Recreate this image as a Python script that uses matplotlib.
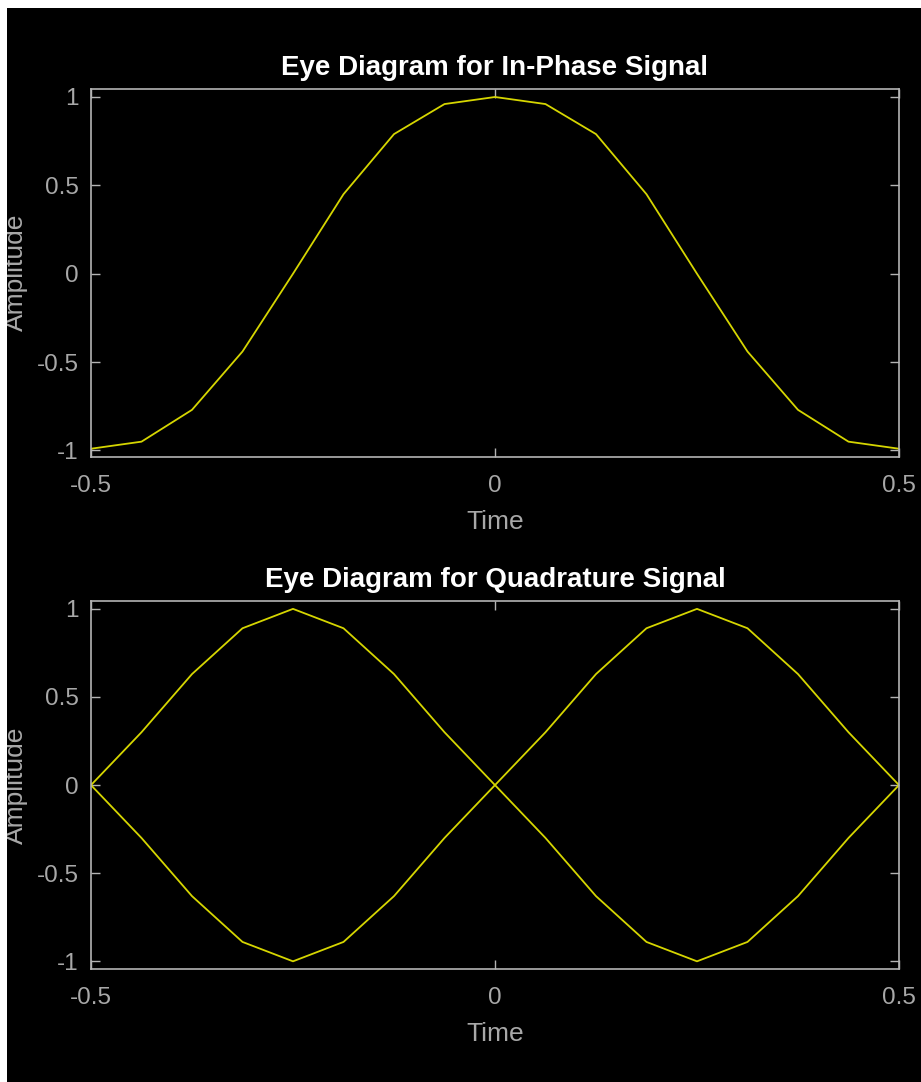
import numpy as np
import matplotlib.pyplot as plt
from matplotlib.patches import Rectangle

# Sample times (one symbol period, 16 samples per symbol)
time = [-0.5, -0.4375, -0.375, -0.3125, -0.25, -0.1875, -0.125, -0.0625, 0.0,
        0.0625, 0.125, 0.1875, 0.25, 0.3125, 0.375, 0.4375, 0.5]

# In-phase trace
inphase = [-0.99, -0.95, -0.77, -0.44, 0.0, 0.45, 0.79, 0.96, 1.0,
           0.96, 0.79, 0.45, 0.0, -0.44, -0.77, -0.95, -0.99]

# Quadrature traces
quad_a = [0.0, 0.30, 0.63, 0.89, 1.0, 0.89, 0.63, 0.30, 0.0,
          -0.30, -0.63, -0.89, -1.0, -0.89, -0.63, -0.30, 0.0]
quad_b = [0.0, -0.30, -0.63, -0.89, -1.0, -0.89, -0.63, -0.30, 0.0,
          0.30, 0.63, 0.89, 1.0, 0.89, 0.63, 0.30, 0.0]

xticks = [-0.5, 0, 0.5]
yticks = [-1, -0.5, 0, 0.5, 1]
xticklabels = ['-0.5', '0', '0.5']
yticklabels = ['-1', '-0.5', '0', '0.5', '1']

plt.rcParams['font.family'] = ['Liberation Sans', 'DejaVu Sans']

axis_col = '#b4b4b4'
text_col = '#a8a8a8'
line_col = '#d6d600'

fig = plt.figure(figsize=(9.21, 10.82), dpi=100, facecolor='black')


def style_axes(ax, title, ylim):
    ax.set_facecolor('black')
    ax.set_xlim(-0.5, 0.5)
    ax.set_ylim(*ylim)
    ax.set_xticks(xticks)
    ax.set_xticklabels(xticklabels)
    ax.set_yticks(yticks)
    ax.set_yticklabels(yticklabels)
    for s in ax.spines.values():
        s.set_color(axis_col)
        s.set_linewidth(1.2)
    ax.tick_params(direction='in', length=6.5, width=1.0, color=axis_col,
                   labelcolor=text_col, labelsize=17.5,
                   top=True, right=True)
    ax.tick_params(axis='x', pad=13)
    ax.tick_params(axis='y', pad=9)
    ax.set_xlabel('Time', color=text_col, fontsize=19, labelpad=9)
    ax.set_ylabel('Amplitude', color=text_col, fontsize=19)
    ax.yaxis.set_label_coords(-0.078, 0.5)
    ax.set_title(title, color='white', fontsize=20, fontweight='bold', pad=10)


ax1 = fig.add_axes([0.0988, 0.5776, 0.8773, 0.3406])
ax1.plot(time, inphase, color=line_col, linewidth=1.3)
style_axes(ax1, 'Eye Diagram for In-Phase Signal', (-1.037, 1.048))

ax2 = fig.add_axes([0.0988, 0.1042, 0.8773, 0.3404])
ax2.plot(time, quad_a, color=line_col, linewidth=1.3)
ax2.plot(time, quad_b, color=line_col, linewidth=1.3)
style_axes(ax2, 'Eye Diagram for Quadrature Signal', (-1.045, 1.045))

# white margin strips at top and left of the original capture
fig.patches.append(Rectangle((0, 1 - 8 / 1082), 1, 8 / 1082, transform=fig.transFigure,
                             facecolor='white', edgecolor='none', zorder=10))
fig.patches.append(Rectangle((0, 0), 7 / 921, 1, transform=fig.transFigure,
                             facecolor='white', edgecolor='none', zorder=10))

fig.savefig('out.png', dpi=100, facecolor='black')
